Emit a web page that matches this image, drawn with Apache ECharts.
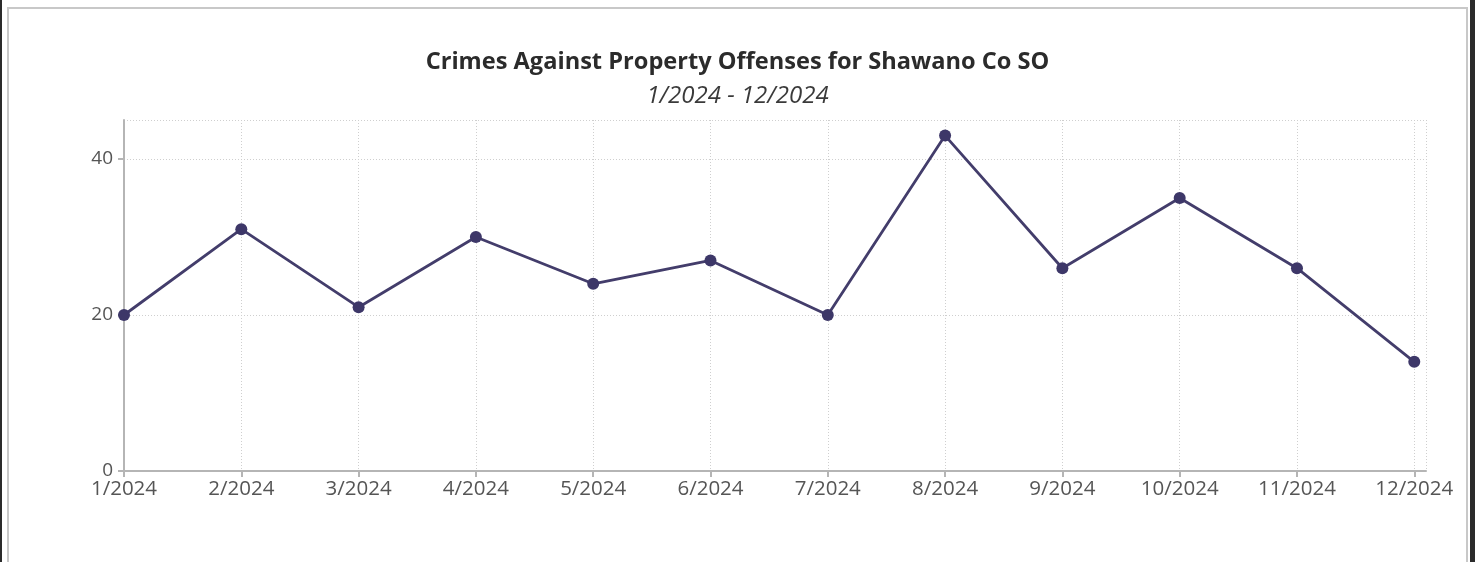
<!DOCTYPE html>
<html>
<head>
<meta charset="utf-8">
<script src="https://cdn.jsdelivr.net/npm/echarts@6/dist/echarts.min.js"></script>
<style>
  html, body { margin: 0; padding: 0; background: #fff; overflow: hidden; }
  #edgeL { position: absolute; left: 0; top: 0; width: 2px; height: 562px; background: #2b2b2b; }
  #edgeR { position: absolute; left: 1470px; top: 0; width: 5px; height: 562px; background: #2b2b2b; }
  #frame { position: absolute; left: 7px; top: 7px; width: 1457px; height: 600px; border: 2px solid #c8c8c8; }
  #main { position: absolute; left: 0; top: 0; width: 1475px; height: 562px; }
</style>
</head>
<body>
<div id="edgeL"></div>
<div id="edgeR"></div>
<div id="frame"></div>
<div id="main"></div>
<script>
// month labels
var months = ['1/2024', '2/2024', '3/2024', '4/2024', '5/2024', '6/2024',
  '7/2024', '8/2024', '9/2024', '10/2024', '11/2024', '12/2024'];
// offenses per month
var offenses = [20, 31, 21, 30, 24, 27, 20, 43, 26, 35, 26, 14];

var chart = echarts.init(document.getElementById('main'), null, { renderer: 'canvas' });

var points = [];
for (var i = 0; i < offenses.length; i++) {
  points.push([i, offenses[i]]);
}

var fontFam = '"Open Sans", "Noto Sans", sans-serif';
var gridLine = { show: true, lineStyle: { color: '#cfcfcf', type: [1, 2], width: 1 } };

var option = {
  backgroundColor: 'transparent',
  animation: false,
  title: [{
    text: 'Crimes Against Property Offenses for Shawano Co SO',
    left: 'center',
    top: 45,
    textStyle: { fontFamily: fontFam, fontSize: 23.6, fontWeight: 'bold', color: '#2b2b2b' }
  }, {
    text: '1/2024 - 12/2024',
    left: 'center',
    top: 79,
    textStyle: { fontFamily: fontFam, fontSize: 24, fontWeight: 'normal', fontStyle: 'italic', color: '#3a3a3a' }
  }],
  grid: { left: 124, top: 120, right: 49, bottom: 91 },
  xAxis: {
    type: 'value',
    min: 0,
    max: 11.1,
    interval: 1,
    axisLine: { show: true, lineStyle: { color: '#b5b5b5', width: 2 } },
    axisTick: { show: true, length: 6, lineStyle: { color: '#b5b5b5', width: 2 } },
    splitLine: gridLine,
    axisLabel: {
      color: '#555',
      fontFamily: fontFam,
      fontSize: 20.5,
      margin: 8,
      showMaxLabel: false,
      formatter: function (v) {
        return Number.isInteger(v) && months[v] ? months[v] : '';
      }
    }
  },
  yAxis: {
    type: 'value',
    min: 0,
    max: 45,
    interval: 20,
    axisLine: { show: true, lineStyle: { color: '#b5b5b5', width: 2 } },
    axisTick: { show: true, length: 6, lineStyle: { color: '#b5b5b5', width: 2 } },
    splitLine: gridLine,
    axisLabel: {
      color: '#555',
      fontFamily: fontFam,
      fontSize: 19,
      margin: 11,
      showMaxLabel: false
    }
  },
  series: [{
    type: 'line',
    data: points,
    symbol: 'circle',
    symbolSize: 12,
    lineStyle: { color: '#433d6b', width: 2.8 },
    itemStyle: { color: '#3d3768' }
  }]
};

chart.setOption(option);
</script>
</body>
</html>
